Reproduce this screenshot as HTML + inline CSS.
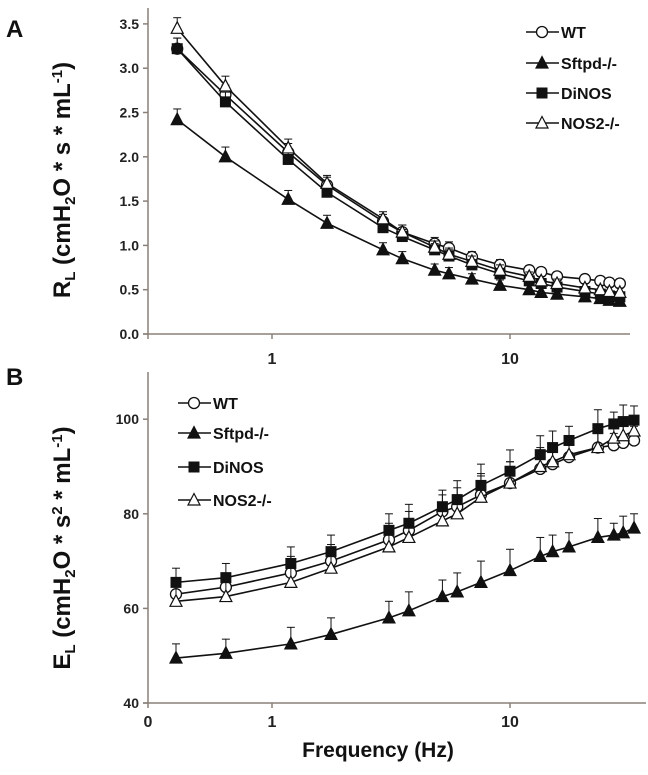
<!DOCTYPE html>
<html><head><meta charset="utf-8"><style>
body{margin:0;background:#fff;}
svg{display:block;font-family:"Liberation Sans",sans-serif;font-weight:bold;}
</style></head><body>
<svg id="chart" width="648" height="775" viewBox="0 0 648 775"></svg>
<script>
const freqs=[0.395,0.64,1.2,1.77,3.1,3.76,5.2,6.0,7.55,10,13.4,15.1,17.7,23.4,27.3,29.9,33.2];
const seriesNames=["WT","Sftpd-/-","DiNOS","NOS2-/-"];
const rWT=[3.22,2.7,2.05,1.68,1.27,1.15,1.02,0.97,0.87,0.78,0.72,0.7,0.65,0.62,0.6,0.58,0.57];
const rSftpd=[2.42,2.0,1.52,1.25,0.95,0.85,0.72,0.68,0.62,0.55,0.5,0.47,0.45,0.42,0.4,0.38,0.37];
const rDiNOS=[3.22,2.62,1.97,1.6,1.2,1.1,0.95,0.88,0.78,0.68,0.6,0.57,0.53,0.48,0.45,0.43,0.42];
const rNOS2=[3.45,2.8,2.1,1.7,1.3,1.15,0.98,0.9,0.82,0.72,0.65,0.6,0.57,0.52,0.5,0.48,0.47];
const rErr=[0.12,0.11,0.1,0.09,0.08,0.08,0.07,0.07,0.06,0.06,0.05,0.05,0.05,0.05,0.05,0.05,0.05];
const eWT=[63,64.5,67.5,70,74.5,76.5,80.5,81.5,84,86.5,89.5,90.5,92,94,94.5,95,95.5];
const eSftpd=[49.5,50.5,52.5,54.5,58,59.5,62.5,63.5,65.5,68,71,72,73,75,75.5,76,77];
const eDiNOS=[65.5,66.5,69.5,72,76.5,78,81.5,83,86,89,92.5,94,95.5,98,99,99.5,99.8];
const eNOS2=[61.5,62.5,65.5,68.5,73,75,78.5,80,83.5,86.5,90,91,92.5,94,96,96.5,97.5];
const eErr=[3,3,3.5,3.5,3.5,4,3.5,4,4.5,4.5,4,3.5,3,4,2.5,3.5,3];
const rTicks=[0,0.5,1,1.5,2,2.5,3,3.5];
const eTicks=[40,60,80,100];
const xTickVals=[1,10];

const svg=document.getElementById('chart');
const NS="http://www.w3.org/2000/svg";
function mk(tag,attrs,parent){const e=document.createElementNS(NS,tag);for(const k in attrs)e.setAttribute(k,attrs[k]);(parent||svg).appendChild(e);return e;}
const AX="#8a8078";
const markers=["circle","tri","square","otri"];

function marker(g,type,x,y){
  let m;
  if(type==="circle") m=mk('circle',{cx:x,cy:y,r:5.5,fill:'#fff',stroke:'#111','stroke-width':1.3},g);
  else if(type==="square") m=mk('rect',{x:x-5.5,y:y-5.5,width:11,height:11,fill:'#111'},g);
  else { const f=type==="tri"?'#111':'#fff';
    m=mk('polygon',{points:`${x},${y-6.5} ${x+6},${y+5} ${x-6},${y+5}`,fill:f,stroke:'#111','stroke-width':1.2},g);}
  return m;
}

function panel(cfg){
  const g=mk('g',{});
  
  
  const xs=f=>cfg.x1+(Math.log10(f))*cfg.dec;
  const ys=v=>cfg.y0-(v-cfg.ymin)*cfg.ppu;
  const ya=mk('line',{x1:148,y1:cfg.ytop,x2:148,y2:cfg.y0+5,stroke:AX,'stroke-width':1.5},g);
  
  const xa=mk('line',{x1:143,y1:cfg.y0,x2:cfg.xend,y2:cfg.y0,stroke:AX,'stroke-width':1.5},g);
  
  cfg.yticks.forEach(t=>{
    mk('line',{x1:143,y1:ys(t),x2:148,y2:ys(t),stroke:AX,'stroke-width':1.5},g);
    const tx=mk('text',{x:139,y:ys(t)+5,'text-anchor':'end','font-size':14,fill:'#222'},g);
    tx.textContent=cfg.fmt(t);
    
  });
  xTickVals.forEach(t=>{
    const xp=cfg.tx1+Math.log10(t)*238;
    mk('line',{x1:xp,y1:cfg.y0,x2:xp,y2:cfg.y0+5,stroke:AX,'stroke-width':1.5},g);
    const tx=mk('text',{x:xp,y:cfg.y0+cfg.tdy,'text-anchor':'middle','font-size':16,fill:'#222'},g);
    tx.textContent=t;
    
  });
  if(cfg.zero){const tx=mk('text',{x:148,y:cfg.y0+cfg.tdy,'text-anchor':'middle','font-size':16,fill:'#222'},g);tx.textContent='0';
    }
  cfg.series.forEach((vals,si)=>{
    const sg=mk('g',{},g);
    
    
    const pts=vals.map((v,i)=>[xs(freqs[i]),ys(v)]);
    const err=cfg.err;
    vals.forEach((v,i)=>{
      const x=xs(freqs[i]),yt=ys(v+err[i]);
      mk('line',{x1:x,y1:ys(v),x2:x,y2:yt,stroke:'#111','stroke-width':1},sg);
      mk('line',{x1:x-4,y1:yt,x2:x+4,y2:yt,stroke:'#111','stroke-width':1},sg);
    });
    mk('polyline',{points:pts.map(p=>p.join(',')).join(' '),fill:'none',stroke:'#111','stroke-width':1.6},sg);
    pts.forEach(p=>marker(sg,markers[si],p[0],p[1]));
  });
  const lg=mk('g',{},g);
  
  seriesNames.forEach((n,i)=>{
    const y=cfg.ly[i];
    const eg=mk('g',{},lg);
    
    mk('line',{x1:cfg.lx,y1:y,x2:cfg.lx+33,y2:y,stroke:'#111','stroke-width':1.6},eg);
    marker(eg,markers[i],cfg.lx+16,y);
    const t=mk('text',{x:cfg.lx+35,y:y+6,'font-size':16,fill:'#111'},eg);t.textContent=n;
  });
}

panel({name:'panel-a-resistance',x1:270,dec:230,xend:630,y0:334,ytop:8,ymin:0,ppu:88.6,
  yticks:rTicks,fmt:t=>t.toFixed(1),series:[rWT,rSftpd,rDiNOS,rNOS2],err:rErr,
  lx:526,ly:[32,63,93,123],zero:false,tx1:272,tdy:30});
panel({name:'panel-b-elastance',x1:272,dec:238,xend:646,y0:703,ytop:372,ymin:40,ppu:4.73,
  yticks:eTicks,fmt:t=>t,series:[eWT,eSftpd,eDiNOS,eNOS2],err:eErr,
  lx:178,ly:[403,433,467,500],zero:true,tx1:272,tdy:24});

function txt(attrs,s,name){const t=mk('text',attrs);t.textContent=s;return t;}
txt({x:6,y:37,'font-size':24,fill:'#111'},'A','panel-a-label');
txt({x:6,y:385,'font-size':24,fill:'#111'},'B','panel-b-label');
const ta=txt({x:0,y:0,'font-size':24,fill:'#111','text-anchor':'middle',transform:'translate(70,180) rotate(-90)'},'','y-axis-title-a');
ta.innerHTML='R<tspan font-size="15" dy="5">L</tspan><tspan dy="-5"> (cmH</tspan><tspan font-size="15" dy="5">2</tspan><tspan dy="-5">O * s * mL</tspan><tspan font-size="15" dy="-8">-1</tspan><tspan dy="8">)</tspan>';
const tb=txt({x:0,y:0,'font-size':24,fill:'#111','text-anchor':'middle',transform:'translate(70,548) rotate(-90)'},'','y-axis-title-b');
tb.innerHTML='E<tspan font-size="15" dy="5">L</tspan><tspan dy="-5"> (cmH</tspan><tspan font-size="15" dy="5">2</tspan><tspan dy="-5">O * s</tspan><tspan font-size="15" dy="-8">2</tspan><tspan dy="8"> * mL</tspan><tspan font-size="15" dy="-8">-1</tspan><tspan dy="8">)</tspan>';
txt({x:378,y:757,'font-size':21,fill:'#111','text-anchor':'middle'},'Frequency  (Hz)','x-axis-title');
</script>
</body></html>
